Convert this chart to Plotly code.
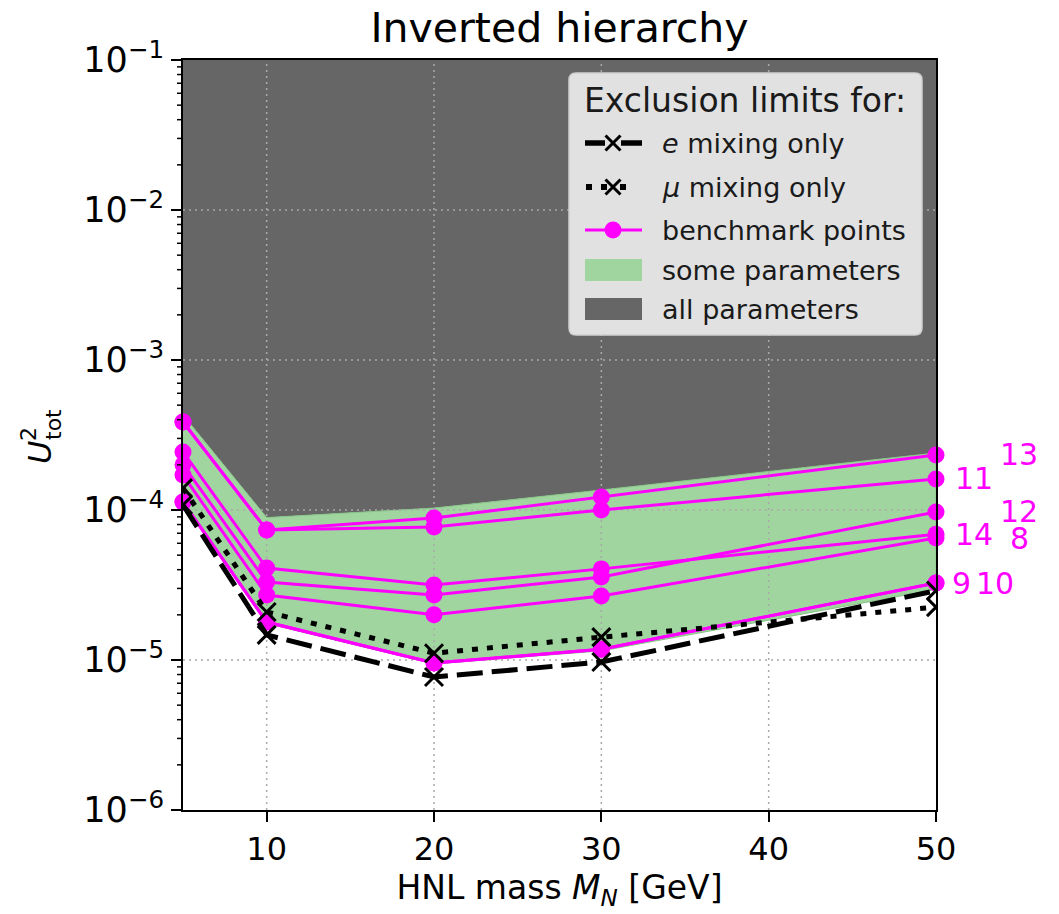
import math
import plotly.graph_objects as go

# HNL masses (GeV) at which the limits were evaluated
mass = [5, 10, 20, 30, 50]

# Exclusion bands in U^2_tot
some_lower = [1.10e-4, 1.75e-5, 9.4e-6, 1.15e-5, 2.95e-5]
some_upper = [4.3e-4, 8.9e-5, 1.03e-4, 1.36e-4, 2.4e-4]
all_top = 1e-1

# Single-flavour mixing limits
e_only = [1.08e-4, 1.47e-5, 7.7e-6, 9.7e-6, 2.9e-5]
mu_only = [1.40e-4, 2.09e-5, 1.11e-5, 1.42e-5, 2.25e-5]

# Benchmark points (limit on U^2_tot vs mass)
bp8 = [1.71e-4, 2.71e-5, 2.00e-5, 2.67e-5, 6.5e-5]
bp9 = [1.13e-4, 1.79e-5, 9.55e-6, 1.18e-5, 3.26e-5]
bp10 = [1.13e-4, 1.79e-5, 9.55e-6, 1.18e-5, 3.26e-5]
bp11 = [3.86e-4, 7.36e-5, 7.70e-5, 1.00e-4, 1.61e-4]
bp12 = [2.00e-4, 3.31e-5, 2.71e-5, 3.58e-5, 9.7e-5]
bp13 = [3.86e-4, 7.36e-5, 8.85e-5, 1.22e-4, 2.33e-4]
bp14 = [2.44e-4, 4.10e-5, 3.16e-5, 4.05e-5, 6.9e-5]

bp_names = ["8", "9", "10", "11", "12", "13", "14"]
bp_series = [bp8, bp9, bp10, bp11, bp12, bp13, bp14]
# horizontal position of each benchmark label (GeV)
bp_label_x = [54.3, 50.85, 52.25, 51.0, 53.7, 53.7, 51.0]

legend_title = "Exclusion limits for:"
legend_labels = ["<i>e</i> mixing only", "<i>μ</i> mixing only",
                 "benchmark points", "some parameters", "all parameters"]

x_ticks = [10, 20, 30, 40, 50]
y_decades = [-6, -5, -4, -3, -2, -1]

MAGENTA = "#ff00ff"
GREEN = "#a0d5a0"
GREY = "#666666"
GRID = "#a9a9a9"

X0, X1 = mass[0], mass[-1]
Y0, Y1 = y_decades[0], y_decades[-1]

# figure geometry (pixels)
W, H = 1059, 914
L, R, T, B = 183, 123, 60, 104
PW, PH = W - L - R, H - T - B


def px(xp):
    return (xp - L) / PW


def py(yp):
    return (H - B - yp) / PH


fig = go.Figure()

# "all parameters" region: from the upper edge of the green band to the top
fig.add_trace(go.Scatter(
    x=mass + mass[::-1], y=some_upper + [all_top] * len(mass),
    fill="toself", fillcolor=GREY, mode="lines", line=dict(width=0, color=GREY),
    showlegend=False, hoverinfo="skip"))

# "some parameters" band
fig.add_trace(go.Scatter(
    x=mass + mass[::-1], y=some_lower + some_upper[::-1],
    fill="toself", fillcolor=GREEN, mode="lines", line=dict(width=1, color="#86c486"),
    showlegend=False, hoverinfo="skip"))

# dotted grid on top of the filled regions
for xv in x_ticks[:-1]:
    fig.add_trace(go.Scatter(
        x=[xv, xv], y=[10.0 ** Y0, 10.0 ** Y1], mode="lines",
        line=dict(color=GRID, width=1.5, dash="2px,4px"),
        showlegend=False, hoverinfo="skip"))
for d in y_decades[1:-1]:
    fig.add_trace(go.Scatter(
        x=[X0, X1], y=[10.0 ** d, 10.0 ** d], mode="lines",
        line=dict(color=GRID, width=1.5, dash="2px,4px"),
        showlegend=False, hoverinfo="skip"))

# benchmark curves
for name, vals in zip(bp_names, bp_series):
    fig.add_trace(go.Scatter(
        x=mass, y=vals, mode="lines+markers", name="BP " + name,
        line=dict(color=MAGENTA, width=3),
        marker=dict(symbol="circle", size=17, color=MAGENTA),
        showlegend=False, cliponaxis=False))

# single-flavour limits
fig.add_trace(go.Scatter(
    x=mass, y=e_only, mode="lines+markers", name="e mixing only",
    line=dict(color="black", width=5, dash="26px,9px"),
    marker=dict(symbol="x-thin", size=18, line=dict(width=3, color="black")),
    showlegend=False))
fig.add_trace(go.Scatter(
    x=mass, y=mu_only, mode="lines+markers", name="mu mixing only",
    line=dict(color="black", width=5, dash="6px,9px"),
    marker=dict(symbol="x-thin", size=18, line=dict(width=3, color="black")),
    showlegend=False))

# benchmark labels at the right edge
annotations = []
for name, vals, lx in zip(bp_names, bp_series, bp_label_x):
    annotations.append(dict(
        x=(lx - X0) / (X1 - X0), y=(math.log10(vals[-1]) - Y0) / (Y1 - Y0),
        xref="paper", yref="paper", text=name,
        showarrow=False, xanchor="left", yanchor="middle",
        font=dict(size=30, color=MAGENTA, family="DejaVu Sans")))

# y-axis label U^2_tot (rotated, with stacked super/subscript)
annotations += [
    dict(x=px(40), y=py(453), xref="paper", yref="paper", text="<i>U</i>",
         showarrow=False, textangle=-90, xanchor="center", yanchor="middle",
         font=dict(size=32, color="black", family="DejaVu Sans")),
    dict(x=px(28), y=py(434), xref="paper", yref="paper", text="2",
         showarrow=False, textangle=-90, xanchor="center", yanchor="middle",
         font=dict(size=22, color="black", family="DejaVu Sans")),
    dict(x=px(53), y=py(425), xref="paper", yref="paper", text="tot",
         showarrow=False, textangle=-90, xanchor="center", yanchor="middle",
         font=dict(size=22, color="black", family="DejaVu Sans")),
]

shapes = []

# minor log ticks on the left axis
for d in y_decades[:-1]:
    for m in range(2, 10):
        yp = (math.log10(m) + d - Y0) / (Y1 - Y0)
        shapes.append(dict(type="line", xref="paper", yref="paper",
                           x0=px(L - 6), x1=px(L), y0=yp, y1=yp,
                           line=dict(color="black", width=1.5)))

# ---- legend box, drawn as shapes + annotations ----
bx0, bx1, by0, by1, rr = 569, 922, 73, 335, 7
path = ("M {a},{b} L {c},{b} Q {x1},{b} {x1},{d} L {x1},{e} Q {x1},{f} {c},{f} "
        "L {a},{f} Q {x0},{f} {x0},{e} L {x0},{d} Q {x0},{b} {a},{b} Z").format(
    a=px(bx0 + rr), c=px(bx1 - rr), b=py(by0), f=py(by1), d=py(by0 + rr),
    e=py(by1 - rr), x0=px(bx0), x1=px(bx1))
shapes.append(dict(type="path", path=path, xref="paper", yref="paper",
                   fillcolor="#e1e1e1", line=dict(color="#cfcfcf", width=1.5),
                   layer="above"))


def hline(x0, x1, y, color, width, dash="solid"):
    shapes.append(dict(type="line", xref="paper", yref="paper",
                       x0=px(x0), x1=px(x1), y0=py(y), y1=py(y),
                       line=dict(color=color, width=width, dash=dash), layer="above"))


def xmark(cx, cy, s=7.5):
    for dy in (-s, s):
        shapes.append(dict(type="line", xref="paper", yref="paper",
                           x0=px(cx - s), x1=px(cx + s), y0=py(cy + dy), y1=py(cy - dy),
                           line=dict(color="black", width=3), layer="above"))


def box(x0, x1, y0, y1, color):
    shapes.append(dict(type="rect", xref="paper", yref="paper",
                       x0=px(x0), x1=px(x1), y0=py(y0), y1=py(y1),
                       fillcolor=color, line=dict(width=0), layer="above"))


row_y = [143, 187, 230, 270, 309]
sx0, sx1, scx = 585, 642, 613
# e mixing: dashed line with cross
hline(sx0, 605, row_y[0], "black", 5.5)
hline(621, sx1, row_y[0], "black", 5.5)
xmark(scx, row_y[0])
# mu mixing: dotted line with cross
box(586, 592, row_y[1] - 3, row_y[1] + 3, "black")
box(601, 607, row_y[1] - 3, row_y[1] + 3, "black")
box(620, 626, row_y[1] - 3, row_y[1] + 3, "black")
xmark(scx, row_y[1])
# benchmark points: magenta line with dot
hline(sx0, sx1, row_y[2], MAGENTA, 3)
shapes.append(dict(type="circle", xref="paper", yref="paper",
                   x0=px(scx - 8.5), x1=px(scx + 8.5),
                   y0=py(row_y[2] + 8.5), y1=py(row_y[2] - 8.5),
                   fillcolor=MAGENTA, line=dict(width=0), layer="above"))
# filled regions
box(sx0, sx1, row_y[3] - 11, row_y[3] + 11, GREEN)
box(sx0, sx1, row_y[4] - 11, row_y[4] + 11, GREY)

annotations.append(dict(x=px(745), y=py(101), xref="paper", yref="paper",
                        text=legend_title, showarrow=False, xanchor="center",
                        yanchor="middle", font=dict(size=33, color="#1a1a1a")))
for lab, yy in zip(legend_labels, row_y):
    annotations.append(dict(x=px(660), y=py(yy), xref="paper", yref="paper",
                            text=lab, showarrow=False, xanchor="left",
                            yanchor="middle", font=dict(size=27, color="#1a1a1a")))

fig.update_layout(
    width=W, height=H, autosize=False,
    margin=dict(l=L, r=R, t=T, b=B),
    paper_bgcolor="white", plot_bgcolor="white",
    font=dict(family="DejaVu Sans", color="black"),
    title=dict(text="Inverted hierarchy", x=0.5, xref="paper", xanchor="center",
               y=1 - 28 / H, yanchor="middle", yref="container",
               font=dict(size=41, color="black")),
    xaxis=dict(
        range=[X0, X1], tickvals=x_ticks, ticktext=[str(v) for v in x_ticks],
        ticks="outside", ticklen=10, tickwidth=2, tickcolor="black",
        showline=True, linecolor="black", linewidth=2, mirror=True,
        showgrid=False, zeroline=False, tickfont=dict(size=32),
        title=dict(text="HNL mass <i>M</i><sub><i>N</i></sub> [GeV]",
                   font=dict(size=33), standoff=8)),
    yaxis=dict(
        type="log", range=[Y0, Y1],
        tickvals=[10.0 ** d for d in y_decades],
        ticktext=["10<sup>−%d</sup>" % (-d) for d in y_decades],
        ticks="outside", ticklen=10, tickwidth=2, tickcolor="black",
        showline=True, linecolor="black", linewidth=2, mirror=True,
        showgrid=False, zeroline=False, tickfont=dict(size=35)),
    shapes=shapes,
    annotations=annotations,
    showlegend=False,
)

fig.write_html("out.html")
